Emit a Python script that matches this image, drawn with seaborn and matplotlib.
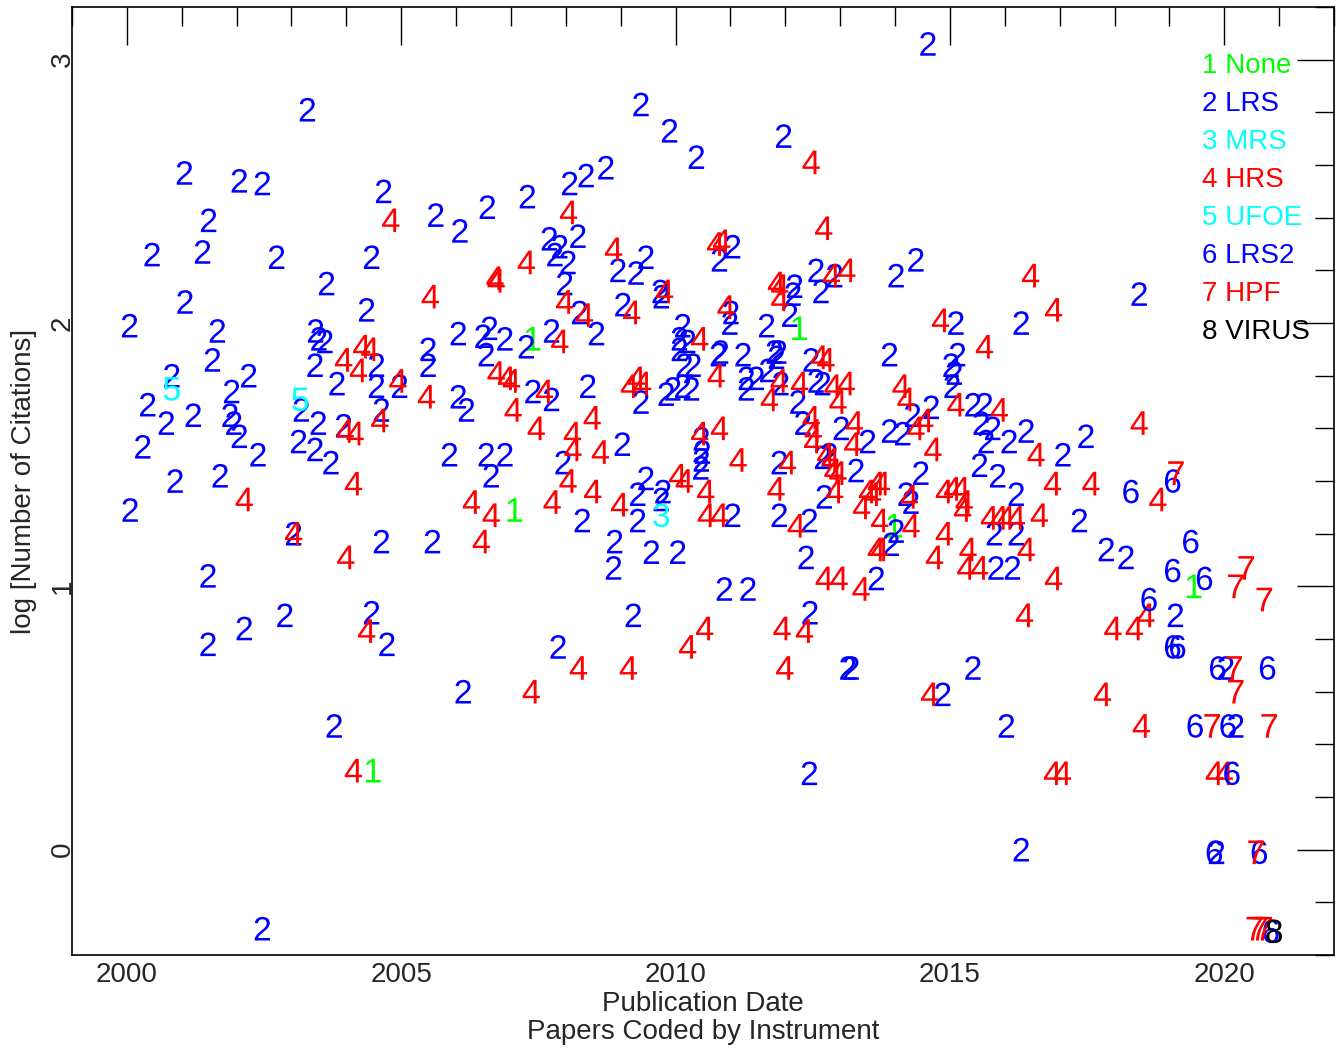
import matplotlib
matplotlib.use("Agg")
import matplotlib.pyplot as plt
import pandas as pd
import seaborn as sns
from matplotlib.ticker import MultipleLocator

# (publication year, log10 citations), one list per instrument
none_pts = [(2012.26, 1.98), (2007.40, 1.94), (2007.07, 1.29), (2013.99, 1.23),
            (2004.49, 0.30), (2019.45, 1.00)]

lrs_pts = [
    (2003.29, 2.81), (2001.05, 2.57), (2002.05, 2.54), (2002.47, 2.53), (2004.68, 2.50),
    (2001.49, 2.39), (2000.46, 2.26), (2001.38, 2.27), (2002.73, 2.25), (2004.46, 2.25),
    (2003.64, 2.15), (2001.06, 2.08), (2004.37, 2.05), (2000.05, 1.99), (2001.65, 1.97),
    (2003.44, 1.97), (2003.50, 1.94), (2003.61, 1.93), (2009.37, 2.83), (2009.89, 2.73),
    (2010.38, 2.63), (2008.73, 2.59), (2008.37, 2.56), (2008.07, 2.53), (2007.30, 2.48),
    (2006.57, 2.44), (2005.63, 2.41), (2006.07, 2.35), (2008.22, 2.33), (2007.70, 2.32),
    (2007.89, 2.29), (2007.80, 2.26), (2008.04, 2.23), (2007.98, 2.15), (2009.46, 2.25),
    (2008.95, 2.20), (2009.28, 2.19), (2009.72, 2.12), (2009.74, 2.10), (2008.25, 2.04),
    (2009.04, 2.07), (2014.60, 3.06), (2011.97, 2.71), (2011.04, 2.29), (2010.80, 2.24),
    (2014.38, 2.24), (2014.02, 2.18), (2012.90, 2.18), (2012.56, 2.20), (2012.65, 2.12),
    (2012.17, 2.14), (2012.14, 2.11), (2012.08, 2.03), (2011.66, 1.99), (2011.01, 2.04),
    (2010.99, 2.00), (2015.11, 2.00), (2016.30, 2.00), (2018.45, 2.11),
    (2001.56, 1.86), (2004.55, 1.84), (2003.43, 1.84), (2003.83, 1.77), (2000.82, 1.80),
    (2002.22, 1.80), (2000.38, 1.69), (2000.72, 1.62), (2001.21, 1.65), (2001.91, 1.74),
    (2001.88, 1.65), (2001.95, 1.62), (2002.05, 1.57), (2002.39, 1.50), (2000.29, 1.53),
    (2003.18, 1.67), (2003.49, 1.62), (2003.13, 1.55), (2003.43, 1.52), (2003.72, 1.47),
    (2003.95, 1.61), (2004.64, 1.67), (2000.88, 1.40), (2001.70, 1.42), (2000.06, 1.29),
    (2003.04, 1.20), (2004.64, 1.17), (2001.48, 1.04), (2004.55, 1.76),
    (2006.04, 1.96), (2006.49, 1.95), (2006.61, 1.98), (2006.89, 1.94), (2006.55, 1.88),
    (2007.28, 1.91), (2007.74, 1.97), (2008.56, 1.96), (2005.49, 1.90), (2005.49, 1.84),
    (2004.97, 1.76), (2006.04, 1.72), (2006.19, 1.67), (2007.40, 1.74), (2007.74, 1.71),
    (2008.40, 1.76), (2009.03, 1.54), (2007.95, 1.47), (2005.88, 1.50), (2006.55, 1.50),
    (2006.89, 1.50), (2006.64, 1.42), (2008.30, 1.25), (2005.57, 1.17), (2009.31, 1.35),
    (2009.46, 1.41), (2009.31, 1.25), (2009.77, 1.36), (2009.74, 1.33), (2008.89, 1.17),
    (2008.87, 1.07), (2009.56, 1.13), (2010.04, 1.13), (2009.37, 1.70), (2009.83, 1.73),
    (2009.95, 1.75), (2010.13, 1.76), (2010.29, 1.75), (2010.16, 1.84), (2010.32, 1.84),
    (2010.13, 1.99), (2010.07, 1.94), (2010.22, 1.93), (2010.07, 1.90),
    (2010.47, 1.56), (2010.49, 1.51), (2010.47, 1.48), (2010.46, 1.45),
    (2010.78, 1.88), (2010.82, 1.89), (2011.23, 1.88), (2011.80, 1.89), (2011.84, 1.87),
    (2011.88, 1.89), (2012.47, 1.86), (2013.90, 1.88), (2015.14, 1.88), (2015.02, 1.84),
    (2011.29, 1.79), (2011.47, 1.79), (2011.68, 1.82), (2011.29, 1.75), (2011.92, 1.77),
    (2012.23, 1.70), (2012.56, 1.78), (2012.68, 1.77), (2012.32, 1.62), (2013.02, 1.60),
    (2013.50, 1.55), (2013.90, 1.59), (2014.14, 1.58), (2014.32, 1.65), (2014.66, 1.68),
    (2015.08, 1.81), (2015.04, 1.76), (2015.42, 1.69), (2015.63, 1.69), (2015.57, 1.62),
    (2015.66, 1.55), (2015.54, 1.46), (2015.87, 1.42), (2016.08, 1.55), (2016.39, 1.59),
    (2015.78, 1.60), (2011.89, 1.47), (2011.89, 1.27), (2012.44, 1.25), (2012.38, 1.11),
    (2012.71, 1.34), (2012.68, 1.49), (2012.80, 1.50), (2013.29, 1.44), (2014.47, 1.43),
    (2014.02, 1.21), (2014.20, 1.35), (2014.29, 1.32), (2013.93, 1.16), (2016.21, 1.35),
    (2015.81, 1.20), (2016.21, 1.20), (2015.84, 1.07), (2016.14, 1.07), (2013.66, 1.03),
    (2011.04, 1.27), (2017.48, 1.57), (2017.06, 1.50), (2017.36, 1.25), (2017.85, 1.14),
    (2018.21, 1.11),
    (2001.48, 0.78), (2002.14, 0.84), (2002.88, 0.89), (2004.46, 0.90), (2004.74, 0.78),
    (2003.78, 0.47), (2002.47, -0.30), (2006.13, 0.60), (2007.86, 0.77), (2009.23, 0.89),
    (2010.89, 0.99), (2011.32, 0.99), (2012.45, 0.90), (2013.14, 0.69), (2013.20, 0.69),
    (2014.87, 0.59), (2015.42, 0.69), (2016.03, 0.47), (2012.44, 0.29), (2016.30, 0.00),
    (2019.11, 0.89), (2020.03, 0.69), (2020.21, 0.47), (2019.86, -0.01),
]

mrs_pts = [(2009.74, 1.27)]

hrs_pts = [
    (2004.81, 2.39), (2008.05, 2.42), (2007.28, 2.23), (2006.71, 2.17), (2006.73, 2.16),
    (2005.53, 2.10), (2008.87, 2.28), (2009.80, 2.12), (2007.98, 2.08), (2008.34, 2.03),
    (2009.20, 2.04), (2012.47, 2.61), (2012.70, 2.36), (2010.73, 2.30), (2010.84, 2.31),
    (2013.12, 2.20), (2012.84, 2.18), (2011.84, 2.15), (2011.90, 2.14), (2011.90, 2.09),
    (2010.92, 2.06), (2014.83, 2.01), (2016.47, 2.18), (2016.89, 2.05),
    (2004.28, 1.91), (2004.43, 1.90), (2003.95, 1.86), (2004.22, 1.82), (2003.98, 1.59),
    (2004.16, 1.58), (2004.61, 1.63), (2004.13, 1.39), (2002.14, 1.33), (2003.04, 1.20),
    (2003.99, 1.11), (2007.89, 1.93), (2004.94, 1.78), (2005.46, 1.72), (2006.73, 1.81),
    (2006.92, 1.79), (2007.01, 1.78), (2007.61, 1.74), (2007.04, 1.67), (2007.46, 1.60),
    (2008.12, 1.58), (2008.48, 1.64), (2008.13, 1.52), (2008.63, 1.51), (2008.04, 1.40),
    (2008.49, 1.36), (2006.28, 1.32), (2006.64, 1.27), (2007.75, 1.32), (2006.46, 1.17),
    (2008.98, 1.31), (2010.04, 1.42), (2010.16, 1.40), (2009.16, 1.76), (2009.29, 1.79),
    (2009.40, 1.77), (2010.44, 1.94), (2010.44, 1.58), (2010.55, 1.36), (2010.56, 1.27),
    (2010.80, 1.27), (2012.62, 1.87), (2012.74, 1.86), (2015.63, 1.91), (2010.74, 1.80),
    (2011.89, 1.78), (2012.26, 1.77), (2011.71, 1.71), (2012.87, 1.76), (2013.11, 1.77),
    (2012.96, 1.70), (2012.47, 1.64), (2012.51, 1.59), (2012.50, 1.55), (2013.26, 1.62),
    (2013.23, 1.54), (2014.38, 1.60), (2014.54, 1.63), (2014.11, 1.76), (2014.20, 1.71),
    (2014.69, 1.52), (2015.11, 1.69), (2015.90, 1.67), (2010.80, 1.60), (2011.14, 1.48),
    (2012.04, 1.47), (2011.83, 1.37), (2012.20, 1.23), (2012.90, 1.36), (2012.74, 1.50),
    (2012.83, 1.48), (2012.87, 1.44), (2012.96, 1.43), (2013.39, 1.30), (2013.50, 1.36),
    (2013.59, 1.35), (2013.66, 1.39), (2013.75, 1.39), (2013.72, 1.25), (2014.26, 1.34),
    (2014.29, 1.23), (2013.66, 1.14), (2013.72, 1.14), (2014.72, 1.11), (2014.90, 1.20),
    (2014.90, 1.36), (2015.05, 1.37), (2015.20, 1.37), (2015.26, 1.32), (2015.23, 1.29),
    (2015.72, 1.26), (2015.90, 1.26), (2016.02, 1.26), (2016.21, 1.26), (2015.33, 1.14),
    (2016.39, 1.14), (2015.29, 1.07), (2015.54, 1.07), (2012.71, 1.03), (2012.98, 1.03),
    (2013.38, 0.99), (2018.45, 1.62), (2016.57, 1.50), (2016.87, 1.39), (2017.57, 1.39),
    (2018.79, 1.33), (2016.63, 1.27), (2016.89, 1.03),
    (2004.37, 0.83), (2004.13, 0.30), (2007.37, 0.60), (2008.23, 0.69), (2009.14, 0.69),
    (2010.22, 0.77), (2010.53, 0.84), (2011.94, 0.84), (2012.35, 0.83), (2011.99, 0.69),
    (2014.63, 0.59), (2016.36, 0.89), (2018.57, 0.89), (2017.97, 0.84), (2018.36, 0.84),
    (2017.78, 0.59), (2018.49, 0.47), (2016.87, 0.29), (2017.05, 0.29), (2019.82, 0.29),
    (2020.00, 0.29),
]

ufoe_pts = [(2000.82, 1.75), (2003.16, 1.71)]

lrs2_pts = [(2018.30, 1.36), (2019.06, 1.40), (2019.39, 1.17), (2019.06, 1.06),
            (2019.64, 1.03), (2018.63, 0.95), (2019.06, 0.77), (2019.15, 0.77),
            (2019.88, 0.69), (2020.79, 0.69), (2019.47, 0.47), (2020.07, 0.47),
            (2020.14, 0.29), (2019.82, -0.01), (2020.64, -0.01), (2020.85, -0.31)]

hpf_pts = [(2019.12, 1.43), (2020.40, 1.07), (2020.21, 1.00), (2020.73, 0.95),
           (2020.18, 0.69), (2020.21, 0.60), (2019.78, 0.47), (2020.82, 0.47),
           (2020.58, -0.01), (2020.55, -0.30), (2020.64, -0.30), (2020.73, -0.30)]

virus_pts = [(2020.91, -0.31)]

codes = ["1", "2", "3", "4", "5", "6", "7", "8"]
names = ["None", "LRS", "MRS", "HRS", "UFOE", "LRS2", "HPF", "VIRUS"]
colors = ["#00ff00", "#0000ff", "#00ffff", "#ff0000", "#00ffff", "#0000ff", "#ff0000", "#000000"]
series = [none_pts, lrs_pts, mrs_pts, hrs_pts, ufoe_pts, lrs2_pts, hpf_pts, virus_pts]

frames = []
for code, pts in zip(codes, series):
    d = pd.DataFrame(pts, columns=["year", "logc"])
    d["code"] = code
    frames.append(d)
df = pd.concat(frames, ignore_index=True)

sns.set_style("white")
plt.rcParams["font.family"] = ["Liberation Sans", "DejaVu Sans"]
plt.rcParams["mathtext.fontset"] = "custom"
plt.rcParams["mathtext.rm"] = "Liberation Sans"
plt.rcParams["mathtext.it"] = "Liberation Sans"
plt.rcParams["mathtext.bf"] = "Liberation Sans"

fig = plt.figure(figsize=(13.38, 10.49), dpi=100)
ax = fig.add_axes([0.0538, 0.0896, 0.9432, 0.9037])

sns.scatterplot(data=df, x="year", y="logc", hue="code", style="code",
                hue_order=codes, style_order=codes,
                palette=dict(zip(codes, colors)),
                markers={c: "$" + c + "$" for c in codes},
                s=290, linewidth=0, edgecolor="none", legend=False, ax=ax)

ax.set_xlim(1999, 2022)
ax.set_ylim(-0.4, 3.2)
ax.xaxis.set_major_locator(MultipleLocator(5))
ax.xaxis.set_minor_locator(MultipleLocator(1))
ax.yaxis.set_major_locator(MultipleLocator(1))
ax.yaxis.set_minor_locator(MultipleLocator(0.2))
ax.tick_params(which="both", direction="in", top=True, right=True,
               width=1, color="black", labelsize=20)
ax.tick_params(which="major", length=27)
ax.tick_params(which="minor", length=14)
ax.tick_params(axis="x", pad=5)
ax.tick_params(axis="y", pad=-2.5)
for lbl in ax.get_yticklabels():
    lbl.set_rotation(90)
    lbl.set_va("center")
    lbl.set_ha("right")
for sp in ax.spines.values():
    sp.set_color("black")
    sp.set_linewidth(1.2)

ax.set_xlabel("Publication Date\nPapers Coded by Instrument", fontsize=20,
              linespacing=1.1, labelpad=2)
ax.set_ylabel("log [Number of Citations]", fontsize=20, labelpad=8.8)

for i, (code, name, col) in enumerate(zip(codes, names, colors)):
    ax.text(0.8954, 0.9309 - i * 0.0401, code + " " + name, color=col,
            fontsize=20, ha="left", va="baseline", transform=ax.transAxes)

fig.savefig("out.png", dpi=100)
